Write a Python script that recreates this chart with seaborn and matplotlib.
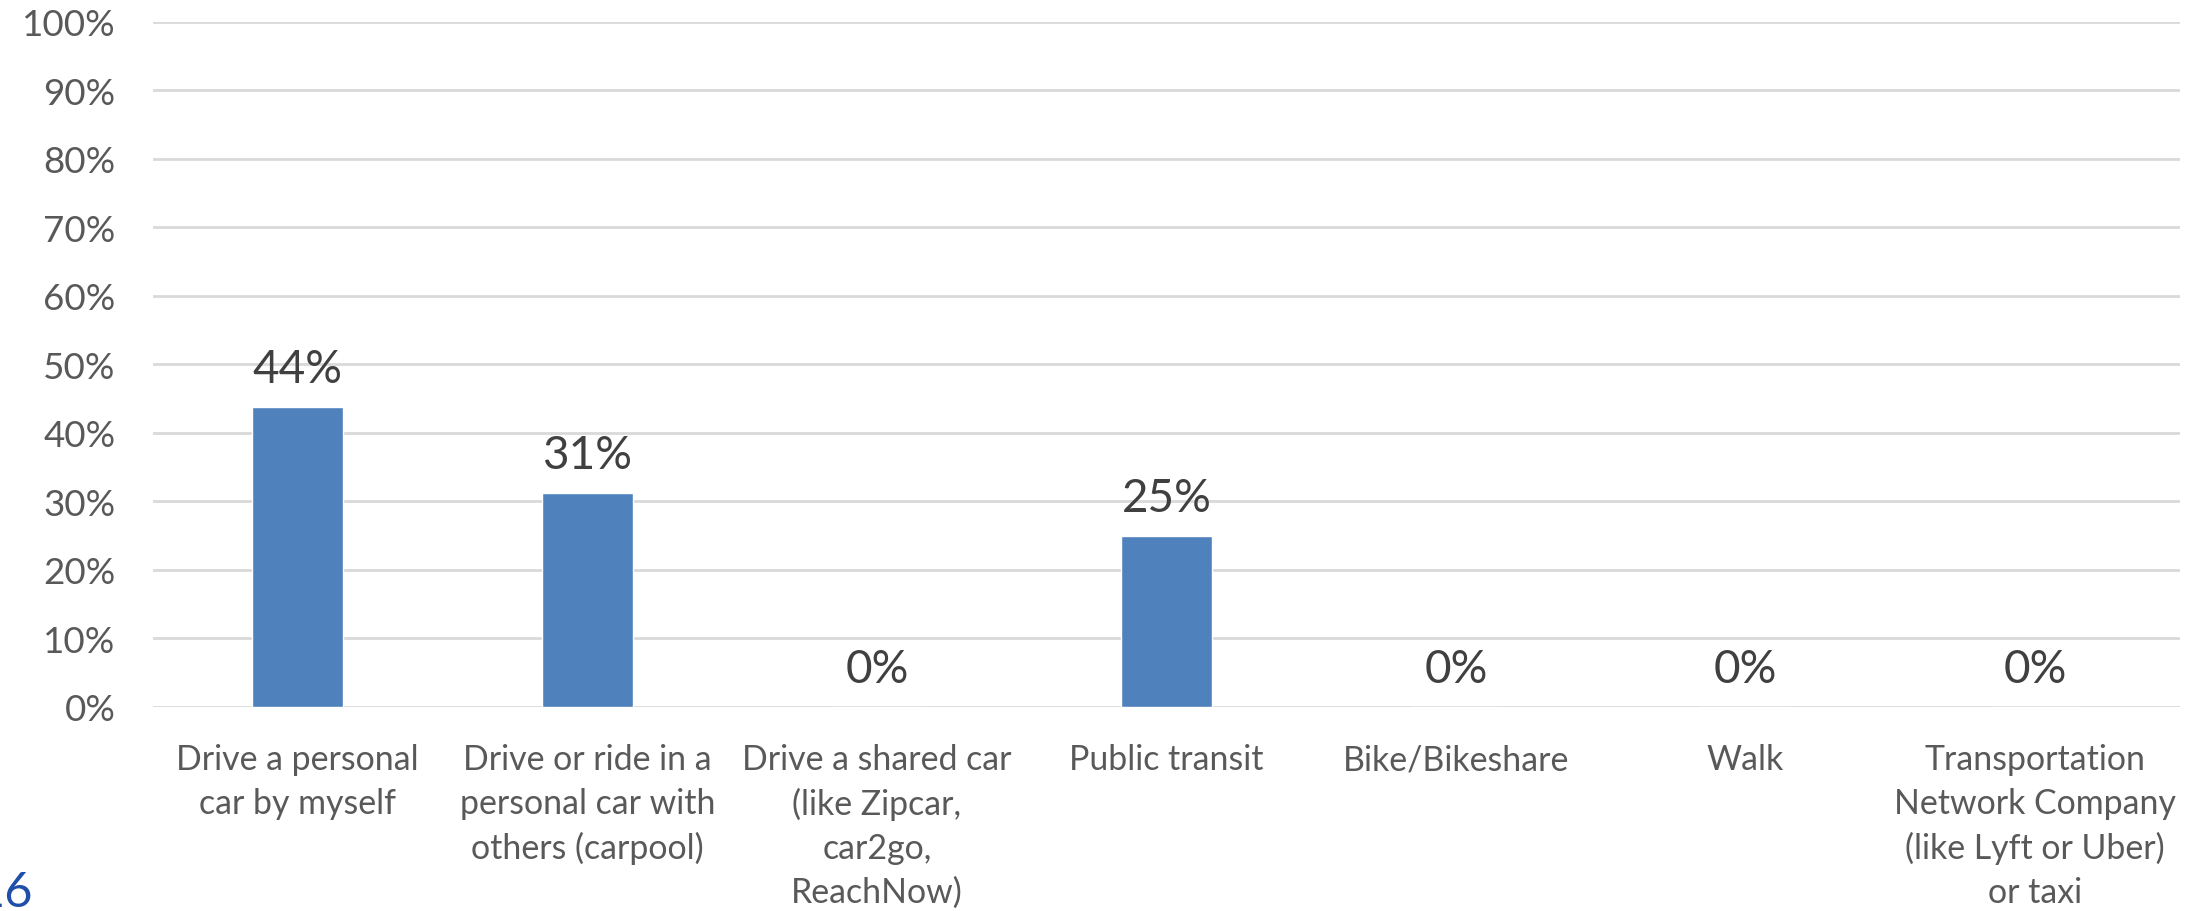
import matplotlib
matplotlib.use("Agg")
import matplotlib.pyplot as plt
import seaborn as sns
import pandas as pd
from matplotlib.ticker import PercentFormatter

# data (n = 16 respondents)
categories = [
    "Drive a personal\ncar by myself",
    "Drive or ride in a\npersonal car with\nothers (carpool)",
    "Drive a shared car\n(like Zipcar,\ncar2go,\nReachNow)",
    "Public transit",
    "Bike/Bikeshare",
    "Walk",
    "Transportation\nNetwork Company\n(like Lyft or Uber)\nor taxi",
]
shares = [0.4375, 0.3125, 0.0, 0.25, 0.0, 0.0, 0.0]
value_labels = ["44%", "31%", "0%", "25%", "0%", "0%", "0%"]
yticks = [0.0, 0.1, 0.2, 0.3, 0.4, 0.5, 0.6, 0.7, 0.8, 0.9, 1.0]

df = pd.DataFrame({"mode": categories, "share": shares})

sns.set_theme(style="white")
plt.rcParams['font.family'] = ['Lato', 'DejaVu Sans']

fig = plt.figure(figsize=(21.88, 9.12), dpi=100)
ax = fig.add_axes([0.0699, 0.2237, 0.9264, 0.7511])

sns.barplot(data=df, x="mode", y="share", color="#4f81bd", saturation=1,
            width=0.314, ax=ax, zorder=3)

ax.set_ylim(0, 1.0)
ax.set_yticks(yticks)
ax.yaxis.set_major_formatter(PercentFormatter(1.0, decimals=0))
ax.set_xlim(-0.5, len(categories) - 0.5)
ax.grid(axis="y", color="#d9d9d9", linewidth=2, zorder=0)
ax.grid(axis="x", visible=False)
for s in ax.spines.values():
    s.set_visible(False)
ax.set_xlabel("")
ax.set_ylabel("")
ax.tick_params(axis="y", length=0, pad=27, labelsize=26.5, labelcolor="#595959")
ax.tick_params(axis="x", length=0, pad=26, labelsize=24.4, labelcolor="#595959")
plt.setp(ax.get_xticklabels(), linespacing=1.45)

# value labels above bars
for i, (v, lab) in enumerate(zip(shares, value_labels)):
    ax.annotate(lab, (i, v), xytext=(0, 18), textcoords="offset points",
                ha="center", va="baseline", fontsize=33, color="#404040")

# clipped slide number at bottom-left
fig.text(33 / 2188, 1 - 907 / 912, "16", ha="right", va="baseline",
         fontsize=35, color="#1f4fa8")

fig.savefig("out.png", dpi=100)
